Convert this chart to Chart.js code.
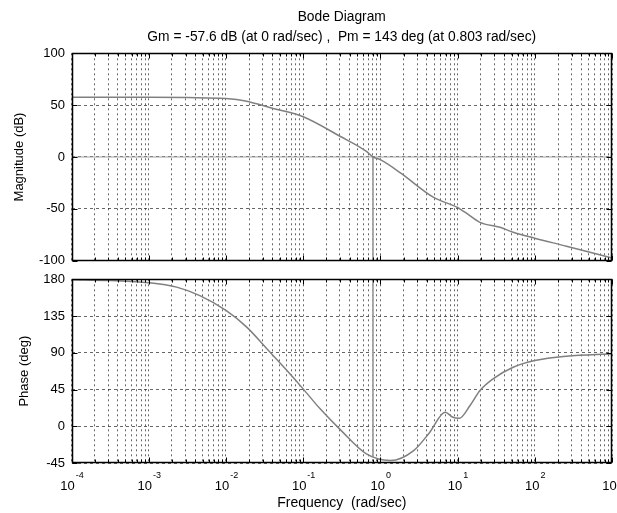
<!DOCTYPE html>
<html>
<head>
<meta charset="utf-8">
<script src="https://cdn.jsdelivr.net/npm/chart.js@4.4.1/dist/chart.umd.min.js"></script>
<style>
  body { margin: 0; background: #fff; width: 617px; height: 513px; overflow: hidden; position: relative; }
  canvas { position: absolute; left: 0; }
  #mag { top: 0; }
  #phase { top: 265px; }
</style>
</head>
<body>
<canvas id="mag" width="617" height="275"></canvas>
<canvas id="phase" width="617" height="248"></canvas>
<script>
// magnitude curve (rad/sec, dB)
const magFreq = [1e-4, 1e-3, 3.2e-3, 1e-2, 0.0178, 0.041, 0.1, 0.3, 0.66, 0.803, 1.0, 1.82, 4.9, 10, 12.6, 19.5, 35.5, 52.5, 100, 257, 1000];
const magDb   = [57.6, 57.6, 57.3, 56.3, 54.0, 46.8, 38.8, 20.0, 5.4, 0, -2.6, -15.3, -39.0, -48.7, -53.5, -63.0, -67.8, -72.6, -78.3, -86.0, -97.4];

// phase curve (rad/sec, deg)
const phaseFreq = [1e-4, 3.2e-4, 1e-3, 2.3e-3, 4.6e-3, 1e-2, 0.0186, 0.0339, 0.0617, 0.1, 0.166, 0.316, 0.66, 1.35, 2.7, 4.37, 6.9, 8.7, 10.5, 14.5, 19.5, 28.8, 52.5, 100, 257, 1000];
const phaseDeg  = [179.6, 178.5, 175.8, 170.4, 160.0, 141.8, 121.4, 94.9, 68.3, 45.8, 21.3, -6.0, -33.9, -42.0, -29.8, -7.3, 17.2, 11.0, 9.8, 25.4, 43.8, 58.1, 72.3, 80.5, 85.8, 88.7];

// margin markers
const pmFreq = 0.803;
const pmPhase = -37;
const freqRange = [1e-4, 1e3];

// tick labels
const magTicks = [100, 50, 0, -50, -100];
const phaseTicks = [180, 135, 90, 45, 0, -45];
const decadeExps = [-4, -3, -2, -1, 0, 1, 2, 3];

const titleLines = ['Bode Diagram', 'Gm = -57.6 dB (at 0 rad/sec) ,  Pm = 143 deg (at 0.803 rad/sec)'];

Chart.defaults.font.family = '"Liberation Sans", Arial, sans-serif';
Chart.defaults.font.size = 13;
Chart.defaults.color = '#000';

const curveColor = '#808080';
const markColor = '#a0a0a0';
const gridColor = 'rgba(0,0,0,0.6)';

function logTicks(scale) {
  const t = [];
  for (let e = -4; e < 3; e++) {
    for (let m = 1; m < 10; m++) t.push({ value: m * Math.pow(10, e) });
  }
  t.push({ value: 1000 });
  scale.ticks = t;
}

function isDecade(v) {
  const l = Math.log10(v);
  return Math.abs(l - Math.round(l)) < 1e-6;
}

// box round the plot with inward ticks, like matlab
const framePlugin = {
  id: 'frame',
  afterDatasetsDraw(chart) {
    const { ctx, chartArea: a, scales: { x, y } } = chart;
    const L = Math.round(a.left) + 0.5, R = Math.round(a.right) - 0.5;
    const T = Math.round(a.top) + 0.5, B = Math.round(a.bottom) - 0.5;
    ctx.save();
    ctx.strokeStyle = '#000';
    ctx.lineWidth = 1;
    ctx.beginPath();
    x.ticks.forEach(t => {
      const px = Math.round(x.getPixelForValue(t.value)) + 0.5;
      const len = isDecade(t.value) ? 5 : 3;
      ctx.moveTo(px, B); ctx.lineTo(px, B - len);
      ctx.moveTo(px, T); ctx.lineTo(px, T + len);
    });
    y.ticks.forEach(t => {
      const py = Math.round(y.getPixelForValue(t.value)) + 0.5;
      ctx.moveTo(L, py); ctx.lineTo(L + 5, py);
      ctx.moveTo(R, py); ctx.lineTo(R - 5, py);
    });
    ctx.stroke();
    ctx.lineWidth = 1.5;
    ctx.strokeRect(L, T, R - L, B - T);
    ctx.restore();
  }
};

// 10^n labels with raised exponent
const decadeLabels = {
  id: 'decadeLabels',
  afterDraw(chart) {
    const { ctx, chartArea: a, scales: { x } } = chart;
    ctx.save();
    ctx.fillStyle = '#000';
    ctx.textBaseline = 'middle';
    decadeExps.forEach(e => {
      const px = x.getPixelForValue(Math.pow(10, e));
      const base = '10', sup = String(e);
      ctx.font = '13px "Liberation Sans", Arial, sans-serif';
      const wb = ctx.measureText(base).width;
      ctx.font = '9px "Liberation Sans", Arial, sans-serif';
      const ws = ctx.measureText(sup).width;
      const x0 = px - (wb + ws) / 2;
      ctx.font = '13px "Liberation Sans", Arial, sans-serif';
      ctx.textAlign = 'left';
      ctx.fillText(base, x0, a.bottom + 23);
      ctx.font = '9px "Liberation Sans", Arial, sans-serif';
      ctx.fillText(sup, x0 + wb + 1, a.bottom + 13);
    });
    ctx.restore();
  }
};

function xScale(height, labels) {
  return {
    type: 'logarithmic',
    min: freqRange[0],
    max: freqRange[1],
    afterBuildTicks: logTicks,
    ticks: { display: false },
    grid: { color: gridColor, drawTicks: false, lineWidth: 1 },
    border: { display: false, dash: [2, 3] },
    title: {
      display: labels,
      text: 'Frequency  (rad/sec)',
      font: { size: 14 },
      padding: { top: 0, bottom: 1 }
    },
    afterFit(s) { s.height = height; s.paddingLeft = 0; s.paddingRight = 0; }
  };
}

function yScale(min, max, step, title, titlePad) {
  return {
    min: min, max: max,
    ticks: { stepSize: step, padding: 6.5, font: { size: 13 } },
    grid: { color: gridColor, drawTicks: false, lineWidth: 1 },
    border: { display: false, dash: [3, 3] },
    title: { display: true, text: title, font: { size: 13 }, padding: { top: titlePad, bottom: 0 } },
    afterFit(s) { s.width = 71.5; }
  };
}

function pts(xs, ys) { return xs.map((f, i) => ({ x: f, y: ys[i] })); }

const lineStyle = { borderColor: curveColor, borderWidth: 1.5, pointRadius: 0, cubicInterpolationMode: 'monotone', order: 0 };
const markStyle = { borderColor: markColor, borderWidth: 1, pointRadius: 0, tension: 0, order: 1 };

new Chart(document.getElementById('mag'), {
  type: 'line',
  data: {
    datasets: [
      Object.assign({ data: pts(magFreq, magDb) }, lineStyle),
      Object.assign({ data: [{ x: freqRange[0], y: 0 }, { x: freqRange[1], y: 0 }] }, markStyle),
      Object.assign({ data: [{ x: pmFreq, y: 0 }, { x: pmFreq, y: magTicks[magTicks.length - 1] }] }, markStyle)
    ]
  },
  options: {
    responsive: false,
    animation: false,
    layout: { padding: { left: 0, right: 5, top: 0, bottom: 0 } },
    scales: {
      x: xScale(13.7, false),
      y: yScale(-100, 100, 50, 'Magnitude (dB)', 12)
    },
    plugins: {
      legend: { display: false },
      tooltip: { enabled: false },
      title: {
        display: true,
        text: titleLines,
        fullSize: false,
        color: '#000',
        font: { size: 13.8, weight: 'normal', lineHeight: 1.46 },
        padding: { top: 7, bottom: 6 }
      }
    }
  },
  plugins: [framePlugin]
});

new Chart(document.getElementById('phase'), {
  type: 'line',
  data: {
    datasets: [
      Object.assign({ data: pts(phaseFreq, phaseDeg) }, lineStyle),
      Object.assign({ data: [{ x: freqRange[0], y: 180 }, { x: freqRange[1], y: 180 }] }, markStyle),
      Object.assign({ data: [{ x: pmFreq, y: 180 }, { x: pmFreq, y: pmPhase }] }, markStyle)
    ]
  },
  options: {
    responsive: false,
    animation: false,
    layout: { padding: { left: 0, right: 5, top: 14, bottom: 0 } },
    scales: {
      x: xScale(50, true),
      y: yScale(-45, 180, 45, 'Phase (deg)', 17)
    },
    plugins: {
      legend: { display: false },
      tooltip: { enabled: false }
    }
  },
  plugins: [framePlugin, decadeLabels]
});
</script>
</body>
</html>
